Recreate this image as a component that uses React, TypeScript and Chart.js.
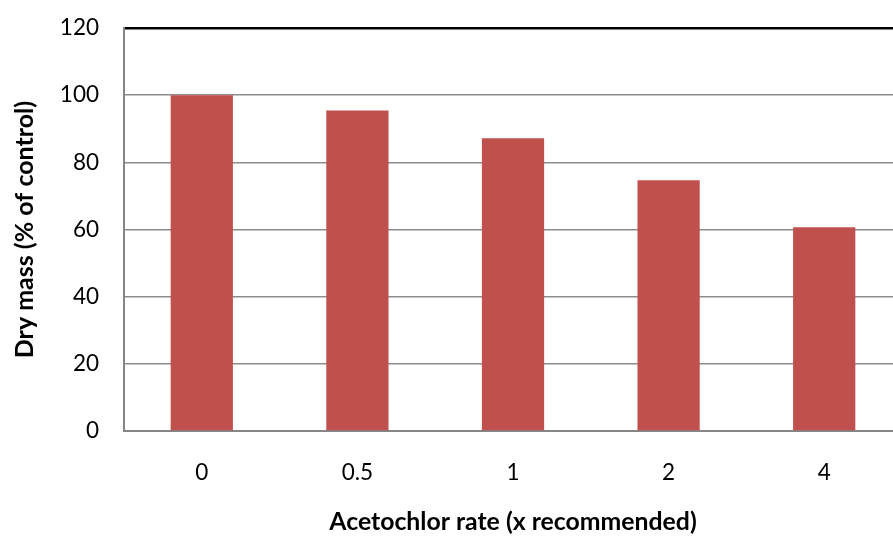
import React, { useEffect, useRef } from "react";
import { Chart, registerables } from "chart.js";

Chart.register(...registerables);

const categories = ["0", "0.5", "1", "2", "4"];
const dryMass = [100, 95.4, 87.2, 74.7, 60.7];
const yTicks = [0, 20, 40, 60, 80, 100, 120];
const xTitle = "Acetochlor rate (x recommended)";
const yTitle = "Dry mass (% of control)";

export default function App() {
  const ref = useRef<HTMLCanvasElement>(null);
  useEffect(() => {
    const ctx = ref.current!;
    const chart = new Chart(ctx, {
      type: "bar",
      data: {
        labels: categories,
        datasets: [
          {
            data: dryMass,
            backgroundColor: "#C0504D",
            barPercentage: 0.4,
            categoryPercentage: 1,
          },
        ],
      },
      options: {
        responsive: false,
        animation: false,
        layout: { padding: { top: 28, right: 3, left: 0, bottom: 0 } },
        plugins: { legend: { display: false }, tooltip: { enabled: false } },
        scales: {
          x: {
            grid: { display: false, drawTicks: false },
            border: { color: "#868686", width: 2 },
            ticks: {
              color: "#000",
              font: { family: "Lato", size: 22.5 },
              padding: 28,
            },
            title: {
              display: true,
              text: xTitle,
              color: "#000",
              font: { family: "Lato", size: 24.8, weight: "bold" },
              padding: { top: 0, bottom: 1 },
            },
            afterFit: (s: any) => {
              s.height = 107;
              s.paddingLeft = 0;
              s.paddingRight = 0;
            },
          },
          y: {
            min: 0,
            max: 120,
            afterBuildTicks: (s: any) => {
              s.ticks = yTicks.map((v) => ({ value: v }));
            },
            grid: {
              drawTicks: false,
              color: (c: any) => (c.tick && c.tick.value === 120 ? "#000" : "#8c8c8c"),
              lineWidth: (c: any) => (c.tick && c.tick.value === 120 ? 2.5 : 1.6),
            },
            border: { color: "#868686", width: 2 },
            ticks: {
              color: "#000",
              font: { family: "Lato", size: 22.5 },
              padding: 25,
            },
            title: {
              display: true,
              text: yTitle,
              color: "#000",
              font: { family: "Lato", size: 25, weight: "bold" },
              padding: { top: 10, bottom: 0 },
            },
            afterFit: (s: any) => {
              s.width = 124;
              s.paddingTop = 0;
              s.paddingBottom = 0;
            },
          },
        },
      },
    });
    return () => chart.destroy();
  }, []);
  return (
    <div
      style={{
        position: "absolute",
        left: 0,
        top: 0,
        width: 893,
        height: 538,
        overflow: "hidden",
        background: "#fff",
      }}
    >
      <canvas ref={ref} width={905} height={538} style={{ display: "block" }} />
    </div>
  );
}
